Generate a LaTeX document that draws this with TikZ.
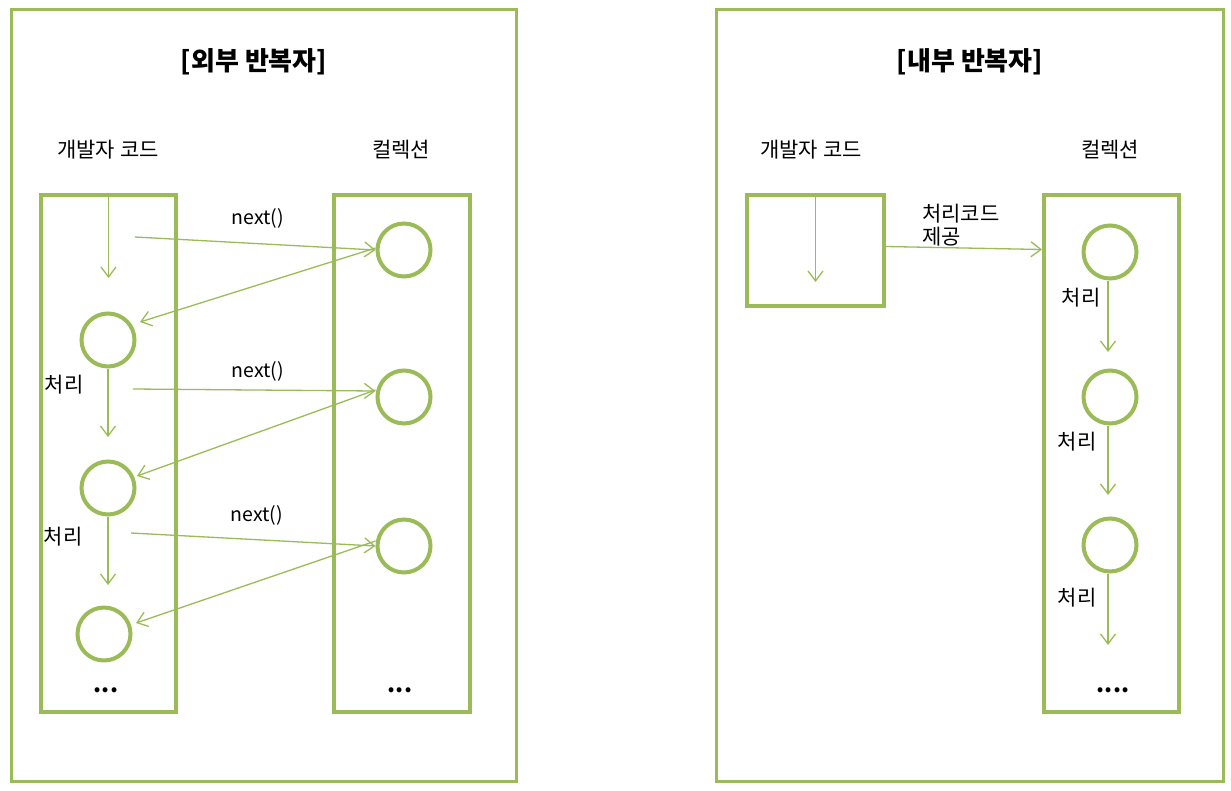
\documentclass[tikz,border=0pt]{standalone}
\usepackage{fontspec}
\setmainfont{Noto Sans CJK KR}
\usetikzlibrary{arrows.meta}
\definecolor{gr}{HTML}{9BBB59}
\begin{document}
\begin{tikzpicture}[x=1pt,y=-1pt,
  frame/.style={draw=gr, line width=3.5pt, inner sep=0pt, rectangle},
  item/.style={circle, draw=gr, line width=4pt, inner sep=0pt, minimum size=53pt},
  flow/.style={draw=gr, line width=1.3pt, -{Straight Barb[length=10pt,width=15pt,line width=1.3pt]}},
  lbl/.style={font=\fontsize{21}{24}\selectfont, inner sep=0pt, text=black},
  lat/.style={font=\fontsize{19.5}{22}\selectfont, inner sep=0pt, text=black},
  ttl/.style={font=\fontsize{26}{29}\selectfont\bfseries, inner sep=0pt, text=black},
  dots/.style={font=\fontsize{23}{25}\selectfont\bfseries, inner sep=0pt, text=black}]
\useasboundingbox (0,0) rectangle (1231,790);
\fill[white] (0,0) rectangle (1231,790);

% outer frames
\node[frame, minimum width=505pt, minimum height=772pt] (lout) at (264,395.5) {};
\node[frame, minimum width=507pt, minimum height=772pt] (rout) at (970,395.5) {};

% titles
\node[ttl] (t1) at (254,62) {[외부 반복자]};
\node[ttl] (t2) at (970,62) {[내부 반복자]};

% headers
\node[lbl] (h1) at (108,150) {개발자 코드};
\node[lbl] (h2) at (401,150) {컬렉션};
\node[lbl] (h3) at (811,150) {개발자 코드};
\node[lbl] (h4) at (1110,150) {컬렉션};

% left side boxes
\node[frame, line width=4pt, minimum width=135pt, minimum height=517pt] (ldev) at (108.5,453.5) {};
\node[frame, line width=4pt, minimum width=136pt, minimum height=517pt] (lcol) at (402,453.5) {};

% left circles
\node[item] (l1) at (108,340) {};
\node[item] (l2) at (108,488) {};
\node[item] (l3) at (104,634) {};
\node[item] (r1) at (404,250) {};
\node[item] (r2) at (404,397) {};
\node[item] (r3) at (404,546) {};

% vertical flow on left
\coordinate (la) at (108.5,278);
\draw[flow] (ldev.north) -- (la);
\coordinate (lb) at (108,437);
\draw[flow] (l1.south) -- (lb);
\coordinate (lc) at (108,585);
\draw[flow] (l2.south) -- (lc);

% next() calls
\coordinate (s1) at (135,237);
\coordinate (s2) at (133,389);
\coordinate (s3) at (131,533);
\draw[flow] (s1) -- (r1.west);
\draw[flow] (s2) -- ([yshift=6pt]r2.west);
\draw[flow] (s3) -- (r3.west);
\node[lat] (n1) at (258,218) {next()};
\node[lat] (n2) at (258,371) {next()};
\node[lat] (n3) at (257,515) {next()};

% returns
\coordinate (e1) at (140,322);
\coordinate (e2) at (137,476);
\coordinate (e3) at (136,623);
\draw[flow] ([yshift=2pt]r1.west) -- (e1);
\draw[flow] ([yshift=7pt]r2.west) -- (e2);
\draw[flow] ([yshift=5pt]r3.west) -- (e3);

\node[lbl] (p1) at (64,385) {처리};
\node[lbl] (p2) at (63,537) {처리};
\node[dots] (d1) at (106,690) {...};
\node[dots] (d2) at (400,690) {...};

% right side
\node[frame, line width=4pt, minimum width=137pt, minimum height=111pt] (rdev) at (815.5,250.5) {};
\node[frame, line width=4pt, minimum width=135pt, minimum height=517pt] (rcol) at (1111.5,453.5) {};
\coordinate (ra) at (815.5,282);
\draw[flow] (rdev.north) -- (ra);
\draw[flow] ([yshift=4pt]rdev.east) -- ([yshift=1pt]rcol.west |- rdev.east);
\node[lbl, align=left, anchor=west] (code) at (922,225) {처리코드\\[-1pt]제공};

\node[item] (q1) at (1110,252) {};
\node[item] (q2) at (1110,397) {};
\node[item] (q3) at (1110,545) {};
\coordinate (qa) at (1108,352);
\coordinate (qb) at (1108,495);
\coordinate (qc) at (1108,645);
\draw[flow] (q1.south -| qa) -- (qa);
\draw[flow] (q2.south -| qb) -- (qb);
\draw[flow] (q3.south -| qc) -- (qc);
\node[lbl] (w1) at (1081,298) {처리};
\node[lbl] (w2) at (1077,442) {처리};
\node[lbl] (w3) at (1077,598) {처리};
\node[dots] (d3) at (1113,690) {....};
\end{tikzpicture}
\end{document}
